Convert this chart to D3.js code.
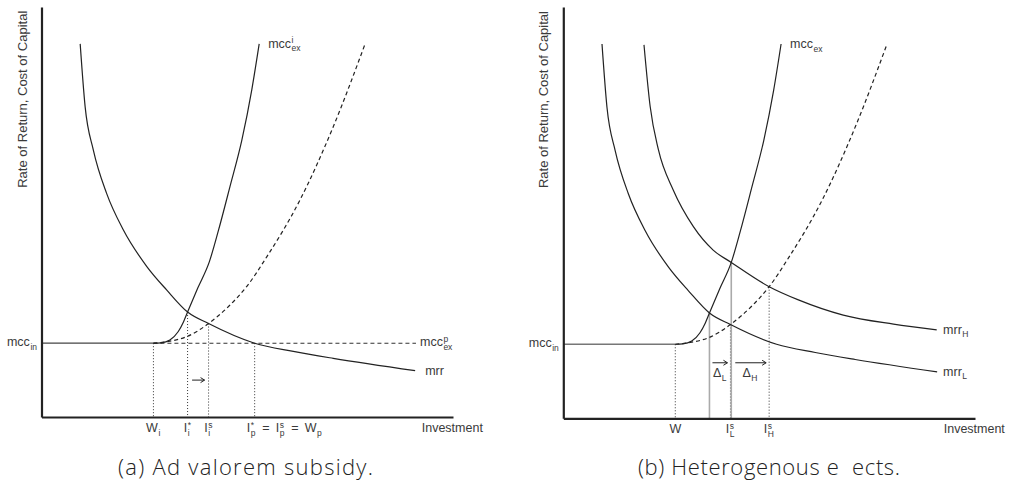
<!DOCTYPE html>
<html>
<head>
<meta charset="utf-8">
<script src="https://cdn.jsdelivr.net/npm/d3@7"></script>
<style>
  body { margin: 0; background: #fff; }
  svg { display: block; }
  text { font-family: "Liberation Sans", Arial, sans-serif; fill: #3a3a3a; }
  .caption { font-family: "Open Sans", "DejaVu Sans", sans-serif; font-weight: 300; fill: #222; }
</style>
</head>
<body>
<svg id="chart" width="1010" height="483"></svg>
<script>
/*************************
 *  data (axis units 0..10)
*************************/

const mccIn = 1.8

// marginal rate of return (low type / panel a)
const mrrLow = [[0.94, 9.10], [1.06, 7.57], [1.26, 6.51], [1.58, 5.46], [1.99, 4.56], [2.56, 3.67],
    [3.04, 3.10], [3.55, 2.56], [4.06, 2.28], [5.18, 1.80], [6.12, 1.60], [7.09, 1.43], [9.08, 1.13]]

// marginal rate of return, high type (panel b)
const mrrHigh = [[1.96, 9.08], [2.11, 7.58], [2.31, 6.53], [2.67, 5.55], [3.16, 4.66], [3.64, 4.09],
    [4.08, 3.79], [5.00, 3.20], [5.71, 2.88], [6.80, 2.51], [8.02, 2.29], [9.07, 2.15]]

// external marginal cost of capital, no subsidy
const mccEx = [[2.72, 1.80], [2.90, 1.81], [3.12, 1.88], [3.32, 2.08], [3.45, 2.32], [3.55, 2.56],
    [3.80, 3.15], [4.08, 3.79], [4.30, 4.55], [4.58, 5.62], [4.87, 6.76], [5.11, 7.98], [5.29, 9.10]]

// external marginal cost of capital with subsidy (dashed)
const mccExSub = [[2.72, 1.80], [3.12, 1.85], [3.53, 1.96], [4.06, 2.28], [4.55, 2.70], [5.00, 3.20],
    [5.47, 3.90], [6.28, 5.29], [7.09, 7.08], [7.86, 9.09]]

const mccInEnd = 9.1

// drop lines [x, y]
const dotsA = [[2.72, 1.80], [3.55, 2.56], [4.06, 2.28], [5.18, 1.80]]
const dotsB = [[2.72, 1.80], [4.06, 2.28], [5.00, 3.20]]
const greyB = [[3.55, 2.56], [4.08, 3.79]]

// tick labels
const ticksA = [
    {x: 2.72, parts: [{b: 'W', sub: 'i'}]},
    {x: 3.55, parts: [{b: 'I', sup: '*', sub: 'i'}]},
    {x: 4.06, parts: [{b: 'I', sup: 's', sub: 'i'}]},
    {x: 5.18, parts: [{b: 'I', sup: '*', sub: 'p'}, {b: '\u2002=\u2002'}, {b: 'I', sup: 's', sub: 'p'}, {b: '\u2002=\u2002'}, {b: 'W', sub: 'p'}], start: true}
]
const ticksB = [
    {x: 2.72, parts: [{b: 'W'}]},
    {x: 4.06, parts: [{b: 'I', sup: 's', sub: 'L'}]},
    {x: 5.00, parts: [{b: 'I', sup: 's', sub: 'H'}]}
]

const yTitle = 'Rate of Return, Cost of Capital'
const xTitle = 'Investment'
const captions = ['(a) Ad valorem subsidy.', '(b) Heterogenous e\u00a0\u00a0ects.']

/*************************
 *  drawing
*************************/

const svg = d3.select('#chart')
const baseSize = 12.5
const scriptSize = 8.5

function mathText(g, x, y, parts, anchor) {
    const t = g.append('g')
    let cx = 0
    parts.forEach(p => {
        const b = t.append('text').attr('x', cx).attr('y', 0).style('font-size', baseSize + 'px').text(p.b)
        cx += b.node().getComputedTextLength()
        let w = 0
        if (p.sup) {
            const s = t.append('text').attr('x', cx + 0.5).attr('y', -4.5)
                .style('font-size', scriptSize + 'px').text(p.sup)
            w = Math.max(w, s.node().getComputedTextLength())
        }
        if (p.sub) {
            const s = t.append('text').attr('x', cx + 0.5).attr('y', 3.5)
                .style('font-size', scriptSize + 'px').text(p.sub)
            w = Math.max(w, s.node().getComputedTextLength())
        }
        if (w) cx += w + 1
    })
    const dx = anchor == 'middle' ? -cx / 2 : anchor == 'end' ? -cx : 0
    t.attr('transform', `translate(${x + dx},${y})`)
    return t
}

function arrow(g, x1, x2, y) {
    g.append('path')
        .attr('d', `M${x1},${y}H${x2}M${x2 - 4},${y - 2.5}L${x2},${y}L${x2 - 4},${y + 2.5}`)
        .attr('fill', 'none').attr('stroke', '#222').attr('stroke-width', 1)
}

function drawPanel(x, y, opts) {
    const g = svg.append('g')
    const line = d3.line().x(d => x(d[0])).y(d => y(d[1])).curve(d3.curveMonotoneX)

    // mcc_in
    g.append('line')
        .attr('x1', x(0)).attr('x2', x(mccEx[0][0]))
        .attr('y1', y(mccIn)).attr('y2', y(mccIn))
        .attr('stroke', opts.inColor).attr('stroke-width', opts.inWidth)
    if (opts.inDashed) {
        g.append('line')
            .attr('x1', x(mccEx[0][0])).attr('x2', x(mccInEnd))
            .attr('y1', y(mccIn)).attr('y2', y(mccIn))
            .attr('stroke', '#333').attr('stroke-width', 1.1).attr('stroke-dasharray', '4,3')
    }

    // drop lines
    g.selectAll('.dot').data(opts.dots).join('line')
        .attr('x1', d => x(d[0])).attr('x2', d => x(d[0]))
        .attr('y1', d => y(d[1])).attr('y2', y(0))
        .attr('stroke', '#333').attr('stroke-width', 1).attr('stroke-dasharray', '1,2')
    g.selectAll('.grey').data(opts.grey).join('line')
        .attr('x1', d => x(d[0])).attr('x2', d => x(d[0]))
        .attr('y1', d => y(d[1])).attr('y2', y(0))
        .attr('stroke', '#aaa').attr('stroke-width', 1.6)

    // curves
    opts.curves.forEach(c => {
        g.append('path').attr('d', line(c)).attr('fill', 'none')
            .attr('stroke', '#222').attr('stroke-width', 1.2)
    })
    g.append('path').attr('d', line(mccExSub)).attr('fill', 'none')
        .attr('stroke', '#222').attr('stroke-width', 1.2).attr('stroke-dasharray', '4,3')

    // axes
    g.append('g').attr('transform', `translate(0,${y(0)})`)
        .call(d3.axisBottom(x).tickValues([]).tickSizeOuter(0))
    g.append('g').attr('transform', `translate(${x(0)},0)`)
        .call(d3.axisLeft(y).tickValues([]).tickSizeOuter(0))
    g.selectAll('.domain').attr('stroke', '#222').attr('stroke-width', 2.2)

    // tick labels
    opts.ticks.forEach(t => {
        if (t.start) mathText(g, x(t.x) - 8, y(0) + 15, t.parts, 'start')
        else mathText(g, x(t.x), y(0) + 15, t.parts, 'middle')
    })

    g.append('text').attr('x', x(9.24)).attr('y', y(0) + 15)
        .style('font-size', baseSize + 'px').text(xTitle)
    g.append('text')
        .attr('transform', `translate(${x(0) - 15},${y(7.75)}) rotate(-90)`)
        .attr('text-anchor', 'middle')
        .style('font-size', '13px').text(yTitle)

    mathText(g, x(0) - 4, y(mccIn) + 3, [{b: 'mcc', sub: 'in'}], 'end')

    g.append('text').attr('class', 'caption')
        .attr('x', opts.capX).attr('y', 475).attr('text-anchor', 'middle')
        .attr('textLength', opts.capW).attr('lengthAdjust', 'spacing')
        .style('font-size', '22px').text(opts.caption)
    return g
}

// panel (a)
const xA = d3.scaleLinear().domain([0, 10]).range([41.5, 453])
const yA = d3.scaleLinear().domain([0, 10]).range([417, 7])
const gA = drawPanel(xA, yA, {
    inColor: '#444', inWidth: 1.2, inDashed: true,
    dots: dotsA, grey: [], curves: [mrrLow, mccEx], ticks: ticksA,
    caption: captions[0], capX: 245.5, capW: 255
})
mathText(gA, xA(5.29) + 9, yA(9.1) + 4, [{b: 'mcc', sup: 'i', sub: 'ex'}], 'start')
mathText(gA, xA(9.1) + 4, yA(mccIn) + 3, [{b: 'mcc', sup: 'p', sub: 'ex'}], 'start')
mathText(gA, xA(9.08) + 10, yA(1.13) + 4, [{b: 'mrr'}], 'start')
arrow(gA, xA(3.55) + 4.5, xA(4.06) - 4, yA(0.9))

// panel (b)
const xB = d3.scaleLinear().domain([0, 10]).range([563.3, 975])
const yB = d3.scaleLinear().domain([0, 10]).range([418.3, 7])
const gB = drawPanel(xB, yB, {
    inColor: '#777', inWidth: 1.5, inDashed: false,
    dots: dotsB, grey: greyB, curves: [mrrLow, mrrHigh, mccEx], ticks: ticksB,
    caption: captions[1], capX: 769, capW: 262
})
mathText(gB, xB(5.29) + 9, yB(9.1) + 4, [{b: 'mcc', sub: 'ex'}], 'start')
mathText(gB, xB(9.08) + 6, yB(2.15) + 4, [{b: 'mrr', sub: 'H'}], 'start')
mathText(gB, xB(9.08) + 6, yB(1.13) + 4, [{b: 'mrr', sub: 'L'}], 'start')
arrow(gB, xB(3.55) + 3, xB(4.06) - 3, yB(1.35))
arrow(gB, xB(4.08) + 4, xB(5.00) - 3, yB(1.35))
mathText(gB, (xB(3.55) + xB(4.06)) / 2, yB(1.0), [{b: '\u0394', sub: 'L'}], 'middle')
mathText(gB, (xB(4.08) + xB(5.00)) / 2, yB(1.0), [{b: '\u0394', sub: 'H'}], 'middle')
</script>
</body>
</html>
